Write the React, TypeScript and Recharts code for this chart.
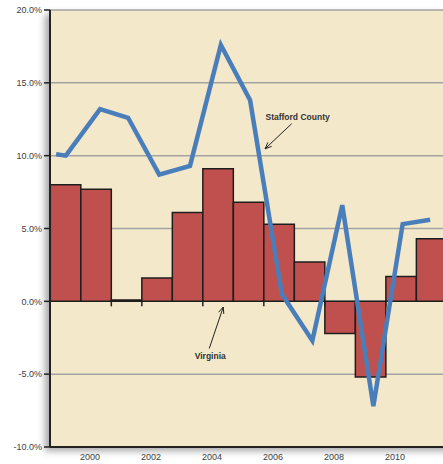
import React from 'react'
import {
  ComposedChart,
  Bar,
  Line,
  Scatter,
  XAxis,
  YAxis,
  CartesianGrid,
  ReferenceLine,
} from 'recharts'

// Virginia: annual change, one bar per year (bar centre on the year scale)
const barYears = [1999.2, 2000.2, 2001.2, 2002.2, 2003.2, 2004.2, 2005.2, 2006.2, 2007.2, 2008.2, 2009.2, 2010.2, 2011.2]
const virginia = [8.0, 7.7, 0.1, 1.6, 6.1, 9.1, 6.8, 5.3, 2.7, -2.2, -5.2, 1.7, 4.3]

// Stafford County line
const lineX = [1998.89, 1999.21, 2000.33, 2001.25, 2002.27, 2003.28, 2004.29, 2005.25, 2006.29, 2007.29, 2008.27, 2009.29, 2010.25, 2011.15]
const stafford = [10.1, 10.0, 13.2, 12.6, 8.7, 9.3, 17.6, 13.8, 0.5, -2.7, 6.6, -7.2, 5.3, 5.6]

const xTicks = [2000, 2002, 2004, 2006, 2008, 2010]
const yTicks = [-10, -5, 0, 5, 10, 15, 20]
// small tick marks hanging under the zero line
const zeroTicks = [2000.7, 2001.7, 2003.7, 2005.7, 2007.7, 2009.7]

const barData = barYears.map((x, i) => ({ x, va: virginia[i] }))
const lineData = lineX.map((x, i) => ({ x, sc: stafford[i] }))
const tickData = zeroTicks.map((x) => ({ x, y: 0 }))

const X_DOMAIN: [number, number] = [1998.69, 2012.13]
const FONT = '"Liberation Sans", Arial, sans-serif'

function arrowShape(label: string, textDx: number, textDy: number) {
  return (props: any) => {
    const { x1, y1, x2, y2 } = props
    const ang = Math.atan2(y2 - y1, x2 - x1)
    const len = 7
    const spread = 0.4
    const ax = x2 - len * Math.cos(ang - spread)
    const ay = y2 - len * Math.sin(ang - spread)
    const bx = x2 - len * Math.cos(ang + spread)
    const by = y2 - len * Math.sin(ang + spread)
    return (
      <g>
        <line x1={x1} y1={y1} x2={x2} y2={y2} stroke="#222" strokeWidth={1} />
        <polyline points={`${ax},${ay} ${x2},${y2} ${bx},${by}`} fill="none" stroke="#222" strokeWidth={1} />
        <text
          x={x1 + textDx}
          y={y1 + textDy}
          textAnchor="middle"
          fontFamily={FONT}
          fontWeight="bold"
          fontSize={8.5}
          fill="#333"
        >
          {label}
        </text>
      </g>
    )
  }
}

export default function App() {
  return (
    <div
      style={{
        position: 'fixed',
        left: 0,
        top: 0,
        width: 443,
        height: 464,
        overflow: 'hidden',
        background: '#fff',
      }}
    >
      {/* plot area panel with soft shadow */}
      <div
        style={{
          position: 'absolute',
          left: 50,
          top: 10,
          width: 410,
          height: 437,
          background: '#f3e8c9',
          boxShadow: '-5px 4px 7px rgba(0,0,0,0.35)',
        }}
      />
      <div style={{ position: 'absolute', left: 0, top: 0 }}>
        <ComposedChart
          width={460}
          height={464}
          data={barData}
          margin={{ top: 10, right: 0, bottom: 0, left: 0 }}
        >
          <CartesianGrid vertical={false} stroke="#a3a3a3" strokeWidth={1.5} />
          <XAxis
            dataKey="x"
            type="number"
            domain={X_DOMAIN}
            ticks={xTicks}
            allowDataOverflow
            tickLine={false}
            axisLine={{ stroke: '#222', strokeWidth: 2 }}
            height={17}
            tickMargin={1}
            tick={{ fontSize: 9, fill: '#404040', fontFamily: FONT }}
          />
          <XAxis
            xAxisId="bars"
            dataKey="x"
            type="number"
            domain={X_DOMAIN}
            allowDataOverflow
            hide
          />
          <XAxis
            xAxisId="top"
            orientation="top"
            type="number"
            domain={X_DOMAIN}
            tick={false}
            tickLine={false}
            height={0}
            axisLine={{ stroke: '#222', strokeWidth: 2 }}
          />
          <YAxis
            type="number"
            domain={[-10, 20]}
            ticks={yTicks}
            width={50}
            tickSize={6}
            tickMargin={2}
            tickLine={{ stroke: '#222', strokeWidth: 1.5 }}
            axisLine={{ stroke: '#222', strokeWidth: 2 }}
            tickFormatter={(v: number) => `${v.toFixed(1)}%`}
            tick={{ fontSize: 9, fill: '#404040', fontFamily: FONT }}
          />
          <Bar
            xAxisId="bars"
            dataKey="va"
            barSize={30.5}
            fill="#c0504d"
            stroke="#1e1e1e"
            strokeWidth={1.5}
            isAnimationActive={false}
          />
          <Scatter
            data={tickData}
            dataKey="y"
            isAnimationActive={false}
            shape={(p: any) => (
              <line x1={p.cx} y1={p.cy} x2={p.cx} y2={p.cy + 5} stroke="#222" strokeWidth={1.5} />
            )}
          />
          <Line
            data={lineData}
            dataKey="sc"
            type="linear"
            stroke="#4a7ebb"
            strokeWidth={4.5}
            dot={false}
            activeDot={false}
            isAnimationActive={false}
          />
          <ReferenceLine
            segment={[
              { x: 2006.61, y: 12.19 },
              { x: 2005.74, y: 10.47 },
            ]}
            shape={arrowShape('Stafford County', 6, -4)}
          />
          <ReferenceLine
            segment={[
              { x: 2003.91, y: -3.24 },
              { x: 2004.37, y: -0.39 },
            ]}
            shape={arrowShape('Virginia', 1, 10)}
          />
        </ComposedChart>
      </div>
    </div>
  )
}
